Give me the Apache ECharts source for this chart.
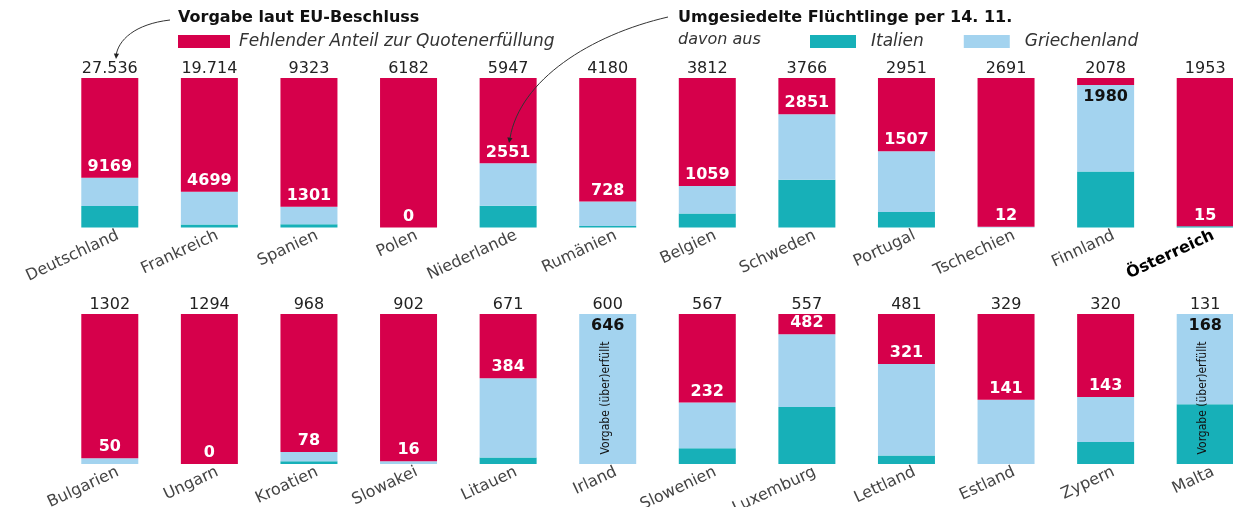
<!DOCTYPE html>
<html><head><meta charset="utf-8">
<script src="https://cdn.jsdelivr.net/npm/echarts@6/dist/echarts.min.js"></script>
<style>html,body{margin:0;padding:0;background:#fff}#c{width:1233px;height:507px}</style>
</head><body><div id="c"></div>
<script>
// ---- data ----
const categoriesTop = ['Deutschland','Frankreich','Spanien','Polen','Niederlande','Rumänien','Belgien','Schweden','Portugal','Tschechien','Finnland','Österreich'];
const quotaTop   = [27536, 19714, 9323, 6182, 5947, 4180, 3812, 3766, 2951, 2691, 2078, 1953];
const italyTop   = [3975, 380, 205, 0, 870, 45, 355, 1200, 308, 0, 778, 15];
const greeceTop  = [5194, 4319, 1096, 0, 1681, 683, 704, 1651, 1199, 12, 1202, 0];

const categoriesBottom = ['Bulgarien','Ungarn','Kroatien','Slowakei','Litauen','Irland','Slowenien','Luxemburg','Lettland','Estland','Zypern','Malta'];
const quotaBottom  = [1302, 1294, 968, 902, 671, 600, 567, 557, 481, 329, 320, 131];
const italyBottom  = [0, 0, 18, 0, 29, 0, 60, 212, 27, 0, 47, 67];
const greeceBottom = [50, 0, 60, 16, 355, 646, 172, 270, 294, 141, 96, 101];

const highlightCountry = 'Österreich';
const darkLabelTop = ['Finnland'];
const overfulfilledNote = 'Vorgabe (über)erfüllt';

const RED = '#d6004b', TEAL = '#17b0b8', LBLUE = '#a3d3ef';
const NAME_MISSING = 'Fehlender Anteil zur Quotenerfüllung';
const FONT = 'DejaVu Sans';

function fmt(n){ return n >= 10000 ? String(n).replace(/\B(?=(\d{3})+(?!\d))/g,'.') : String(n); }

function buildSeries(idx, cats, quota, italy, greece){
  const base = quota.map((q,i)=>Math.max(q, italy[i]+greece[i]));
  const ip = italy.map((v,i)=>v/base[i]*100);
  const gp = greece.map((v,i)=>v/base[i]*100);
  const mp = base.map((b,i)=>Math.max(0,100-ip[i]-gp[i]));
  const common = {type:'bar', xAxisIndex:idx, yAxisIndex:idx, barWidth:57, silent:true};
  const greeceData = gp.map((v,i)=>{
    const total = italy[i]+greece[i];
    const over = total >= quota[i];
    const dark = over || darkLabelTop.includes(cats[i]);
    return {value:v, label:{show:true, formatter:String(total),
      position: dark ? 'insideTop' : 'top', distance: dark ? 4 : 3,
      color: dark ? '#111' : '#fff', fontWeight:'bold', fontSize:16, fontFamily:FONT}};
  });
  const over = quota.map((q,i)=>italy[i]+greece[i] > q);
  return [
    Object.assign({}, common, {name:'Italien', stack:'s'+idx, data:ip, itemStyle:{color:TEAL}}),
    Object.assign({}, common, {name:'Griechenland', stack:'s'+idx, data:greeceData, itemStyle:{color:LBLUE}}),
    Object.assign({}, common, {name:NAME_MISSING, stack:'s'+idx, data:mp, itemStyle:{color:RED}}),
    Object.assign({}, common, {name:'quota'+idx, data:quota.map(()=>100), itemStyle:{color:'rgba(0,0,0,0)'},
      label:{show:true, position:'top', distance:1, color:'#222', fontSize:16, fontFamily:FONT,
        formatter:p=>fmt(quota[p.dataIndex])}}),
    Object.assign({}, common, {name:'note'+idx, barGap:'-100%', data:over.map(o=>o?100:'-'), itemStyle:{color:'rgba(0,0,0,0)'},
      label:{show:true, position:'inside', rotate:90, offset:[-9,-2], color:'#111', fontSize:12,
        fontFamily:'Liberation Sans Narrow, DejaVu Sans Condensed, sans-serif', formatter:overfulfilledNote}})
  ];
}

function xAxis(idx, cats){
  return {type:'category', gridIndex:idx, data:cats,
    axisLine:{show:false}, axisTick:{show:false},
    axisLabel:{interval:0, rotate:25, margin:11, color:'#444', fontSize:16, fontFamily:FONT,
      padding:[0,-9,0,0],
      formatter:v=> v===highlightCountry ? '{b|'+v+'}' : v,
      rich:{b:{fontWeight:'bold', color:'#000', fontSize:16, fontFamily:FONT}}}};
}
function yAxis(idx){ return {type:'value', gridIndex:idx, min:0, max:100, show:false}; }

const chart = echarts.init(document.getElementById('c'), null, {renderer:'canvas'});

const arrowHead = (x,y,ang)=>{
  const s=6, a=ang*Math.PI/180;
  const p=[[x,y],[x-s*Math.cos(a-0.45),y-s*Math.sin(a-0.45)],[x-s*Math.cos(a+0.45),y-s*Math.sin(a+0.45)]];
  return {type:'polygon', z:100, shape:{points:p}, style:{fill:'#222'}};
};

const legendText = {fontStyle:'italic', fontSize:17, color:'#333', fontFamily:FONT};
const gridCommon = {left:60, right:-22, containLabel:false, outerBoundsMode:'none'};

chart.setOption({
  animation:false,
  grid:[Object.assign({top:78, height:149.5}, gridCommon), Object.assign({top:314, height:150}, gridCommon)],
  xAxis:[xAxis(0,categoriesTop), xAxis(1,categoriesBottom)],
  yAxis:[yAxis(0), yAxis(1)],
  legend:[
    {data:[NAME_MISSING], left:178, top:33, padding:0, itemWidth:52, itemHeight:13, icon:'rect', selectedMode:false,
      textStyle:Object.assign({padding:[0,0,0,4]}, legendText)},
    {data:['Italien','Griechenland'], left:810, top:33, padding:0, itemWidth:46, itemHeight:13, itemGap:40, icon:'rect', selectedMode:false,
      textStyle:Object.assign({padding:[0,0,0,10]}, legendText)}
  ],
  graphic:[
    {type:'text', z:100, left:178, top:10, style:{text:'Vorgabe laut EU-Beschluss', font:'bold 16px "DejaVu Sans"', fill:'#111'}},
    {type:'text', z:100, left:678, top:10, style:{text:'Umgesiedelte Flüchtlinge per 14. 11.', font:'bold 16px "DejaVu Sans"', fill:'#111'}},
    {type:'text', z:100, left:678, top:32, style:{text:'davon aus', font:'italic 16px "DejaVu Sans"', fill:'#333'}},
    {type:'bezierCurve', z:100, shape:{x1:170,y1:20,cpx1:135,cpy1:24,cpx2:118,cpy2:40,x2:116,y2:56}, style:{stroke:'#333', lineWidth:1, fill:null}},
    arrowHead(116,59,95),
    {type:'bezierCurve', z:100, shape:{x1:668,y1:17,cpx1:590,cpy1:35,cpx2:520,cpy2:80,x2:510,y2:138}, style:{stroke:'#333', lineWidth:1, fill:null}},
    arrowHead(509,143,100)
  ],
  series:[].concat(
    buildSeries(0, categoriesTop, quotaTop, italyTop, greeceTop),
    buildSeries(1, categoriesBottom, quotaBottom, italyBottom, greeceBottom)
  )
});
</script></body></html>
